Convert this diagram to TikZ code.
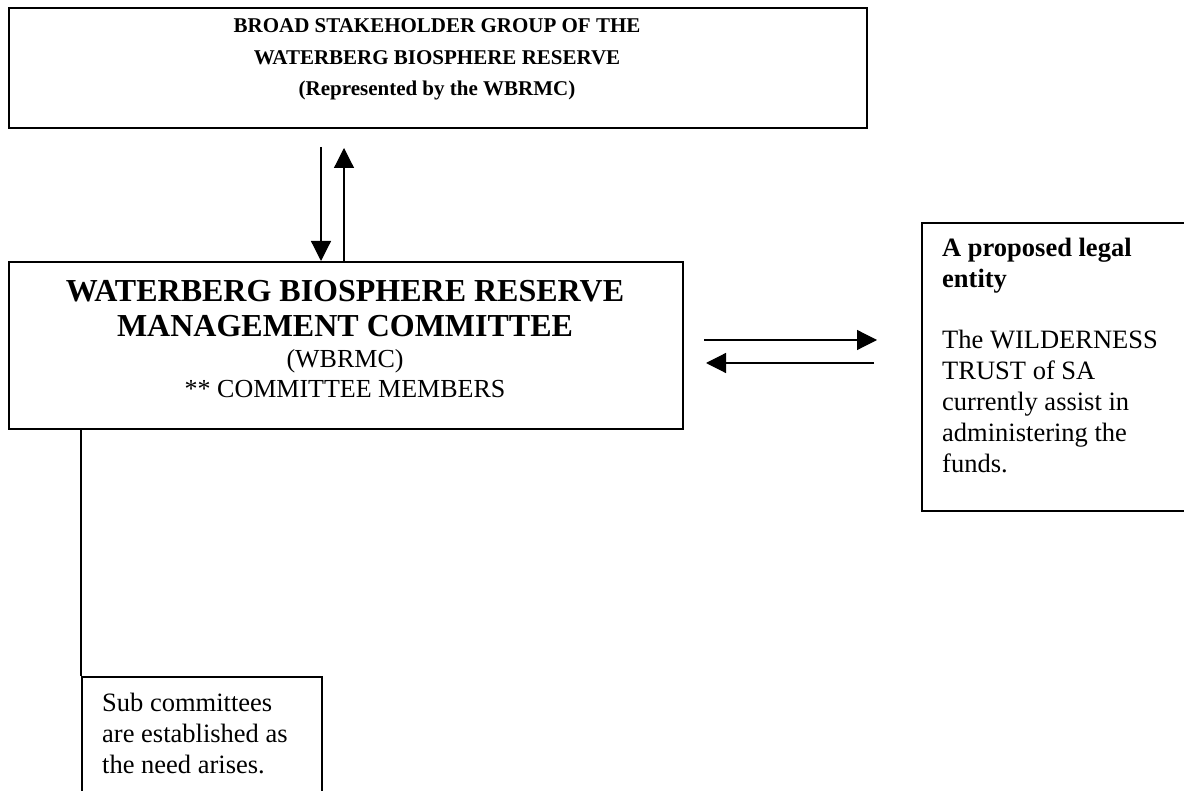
\documentclass[tikz,border=0pt]{standalone}
\usepackage{fontspec}
\setmainfont{Liberation Serif}
\usetikzlibrary{arrows.meta}
\tikzset{
  box/.style={draw, line width=1.6pt, inner sep=0pt, anchor=north west},
  conn/.style={line width=1.2pt, -{Triangle[length=20pt,width=20pt]}},
  ln/.style={line width=1.6pt},
  reg/.style={inner sep=0pt, anchor=base, font=\fontsize{26.5}{31}\selectfont},
  regl/.style={reg, anchor=base west},
  regm/.style={inner sep=0pt, anchor=base, font=\fontsize{26}{30}\selectfont},
  bld/.style={inner sep=0pt, anchor=base, font=\fontsize{21}{31}\selectfont\bfseries},
  bldl/.style={inner sep=0pt, anchor=base west, font=\fontsize{26.5}{31}\selectfont\bfseries},
  big/.style={inner sep=0pt, anchor=base, font=\fontsize{32}{35}\selectfont\bfseries}
}
\begin{document}
\begin{tikzpicture}[x=1pt,y=-1pt]
\useasboundingbox (0,0) rectangle (1184,791);
\clip (0,0) rectangle (1184,791);
% boxes
\node[box, minimum width=858pt, minimum height=120pt] (top) at (8,7) {};
\node[box, minimum width=674pt, minimum height=167pt] (main) at (8,261) {};
\node[box, minimum width=320pt, minimum height=288pt] (legal) at (921,222) {};
\node[box, minimum width=240pt, minimum height=160pt] (sub) at (81,676) {};
% top text
\node[bld] (t1) at (437,33) {BROAD STAKEHOLDER GROUP OF THE};
\node[bld] (t2) at (437,65) {WATERBERG BIOSPHERE RESERVE};
\node[bld] (t3) at (437,96) {(Represented by the WBRMC)};
% main text
\node[big] (m1) at (345,302) {WATERBERG BIOSPHERE RESERVE};
\node[big] (m2) at (345,337) {MANAGEMENT COMMITTEE};
\node[regm] (m3) at (345,368) {(WBRMC)};
\node[regm] (m4) at (345,398) {** COMMITTEE MEMBERS};
% legal entity text
\node[bldl] (e1) at (942,257) {A proposed legal};
\node[bldl] (e2) at (942,288) {entity};
\node[regl] (e3) at (942,349) {The WILDERNESS};
\node[regl] (e4) at (942,380) {TRUST of SA};
\node[regl] (e5) at (942,411) {currently assist in};
\node[regl] (e6) at (942,442) {administering the};
\node[regl] (e7) at (942,473) {funds.};
% sub committee text
\node[regl] (s1) at (102,711) {Sub committees};
\node[regl] (s2) at (102,742) {are established as};
\node[regl] (s3) at (102,773) {the need arises.};
% connectors
\coordinate (d1) at (321,147);
\coordinate (u1) at (344,148);
\draw[conn] (d1) -- (d1 |- main.north);
\draw[conn] (u1 |- main.north) -- (u1);
\coordinate (r1) at (704,340);
\coordinate (r2) at (877,340);
\coordinate (l1) at (874,363);
\coordinate (l2) at (706,363);
\draw[conn] (r1) -- (r2);
\draw[conn] (l1) -- (l2);
\draw[ln] (sub.north west |- main.south) -- (sub.north west);
\end{tikzpicture}
\end{document}
